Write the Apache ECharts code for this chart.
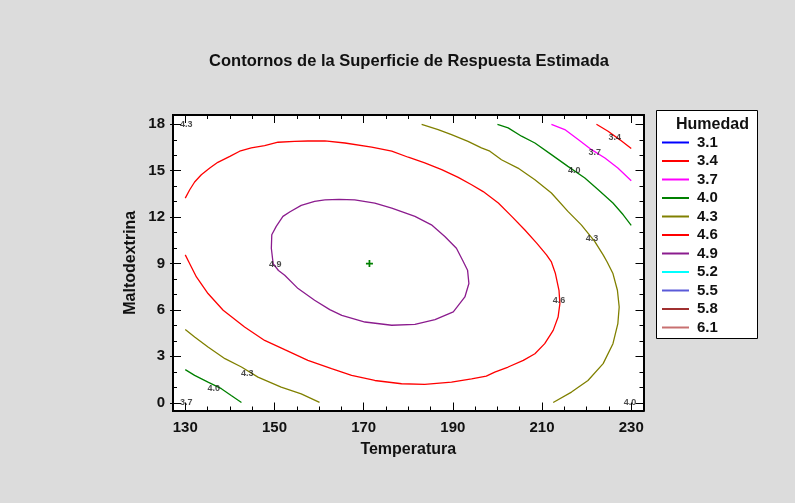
<!DOCTYPE html>
<html><head><meta charset="utf-8">
<script src="https://cdn.jsdelivr.net/npm/echarts@6/dist/echarts.min.js"></script>
<style>html,body{margin:0;padding:0;background:#dcdcdc}#c{width:795px;height:503px}</style>
</head><body><div id="c"></div>
<script>
// ---- data ----
const titleText = 'Contornos de la Superficie de Respuesta Estimada';
const xName = 'Temperatura';
const yName = 'Maltodextrina';
const legendTitle = 'Humedad';
const levels = ['3.1','3.4','3.7','4.0','4.3','4.6','4.9','5.2','5.5','5.8','6.1'];
const levelColors = ['#0000ff','#ff0000','#ff00ff','#008000','#808000','#ff0000','#8b1c8e','#00ffff','#5a5ad8','#a03030','#c87070'];
const xTicks = [130,150,170,190,210,230];
const xMinorTicks = [130,135,140,145,150,155,160,165,170,175,180,185,190,195,200,205,210,215,220,225,230];
const yTicks = [0,3,6,9,12,15,18];
const yMinorTicks = [0,1,2,3,4,5,6,7,8,9,10,11,12,13,14,15,16,17,18];

// contour lines: [Temperatura, Maltodextrina]
const c49 = [[161.3,13.12],[159.0,13.02],[156.0,12.76],[153.5,12.35],[151.9,12.05],[150.4,11.40],[149.4,10.86],[149.3,9.99],[149.7,9.0],[150.9,8.55],[152.3,8.24],[155.3,7.38],[159.0,6.63],[162.4,6.02],[165.1,5.65],[170.3,5.22],[176.3,5.01],[181.5,5.07],[186.0,5.38],[190.1,5.87],[192.7,6.84],[193.6,7.71],[193.3,8.57],[192.3,9.15],[190.8,9.99],[188.2,10.75],[185.2,11.50],[181.5,12.05],[176.3,12.58],[172.5,12.91],[168.0,13.12],[164.5,13.15],[161.3,13.12]];
const c46 = [[130.0,13.23],[131.0,13.77],[132.1,14.27],[133.6,14.74],[135.5,15.17],[137.3,15.54],[140.0,15.93],[142.2,16.26],[144.8,16.47],[147.8,16.62],[150.8,16.84],[154.5,16.90],[157.5,16.92],[161.3,16.93],[165.8,16.79],[171.8,16.53],[176.3,16.26],[180.0,15.87],[183.7,15.50],[187.5,15.07],[191.2,14.57],[194.2,14.09],[196.8,13.65],[200.2,12.91],[203.2,12.05],[206.1,11.18],[208.8,10.32],[211.0,9.56],[212.1,9.1],[213.0,8.35],[213.8,7.27],[214.0,6.41],[213.6,5.54],[212.5,4.68],[210.6,3.82],[208.4,3.17],[205.8,2.74],[202.4,2.31],[199.4,1.98],[197.5,1.72],[194.2,1.55],[189.7,1.33],[183.7,1.19],[178.5,1.23],[172.5,1.44],[167.3,1.77],[162.8,2.20],[157.5,2.74],[152.3,3.43],[147.8,4.03],[143.3,4.90],[138.5,5.98],[135.1,7.06],[132.5,8.13],[130.8,9.1],[130.0,9.56]];
const c43a = [[130.0,4.73],[132.1,4.25],[135.1,3.60],[138.9,2.85],[142.6,2.31],[146.3,1.66],[151.5,1.01],[156.0,0.58],[160.1,0.02]];
const c43b = [[183.0,18.0],[186.7,17.66],[189.7,17.33],[193.4,16.90],[196.4,16.47],[198.3,16.26],[200.9,15.71],[204.6,15.17],[208.4,14.42],[212.1,13.56],[215.8,12.37],[218.8,11.50],[221.8,10.43],[223.7,9.56],[224.6,9.1],[225.9,8.35],[226.9,7.27],[227.3,6.19],[227.0,5.12],[225.9,3.82],[223.7,2.53],[220.3,1.44],[216.6,0.69],[212.5,0.02]];
const c40a = [[130.0,2.14],[132.1,1.77],[135.1,1.33],[138.1,0.91],[140.3,0.47],[142.6,0.02]];
const c40b = [[200.0,18.0],[202.4,17.77],[205.4,17.23],[208.4,16.79],[212.1,16.04],[215.8,15.28],[219.6,14.53],[222.6,13.77],[225.9,12.91],[228.2,12.15],[230.0,11.46]];
const c37 = [[212.1,18.0],[215.1,17.66],[218.1,17.01],[221.1,16.36],[224.1,15.82],[227.0,15.17],[230.0,14.35]];
const c34 = [[222.2,18.0],[224.8,17.55],[227.4,17.01],[230.0,16.43]];

const labelText = ['4.3','4.9','4.3','4.0','3.7','3.4','3.7','4.0','4.3','4.6','4.0'];
const labelX = [130.2,150.2,143.9,136.4,130.2,226.3,221.8,217.2,221.2,213.8,229.7];
const labelY = [18.0,8.96,1.92,0.95,0.0,17.12,16.19,15.03,10.6,6.58,0.04];

const centerPoint = [171.3, 9.0];

// ---- chart ----
const FONT = '"Liberation Sans", Arial, sans-serif';
const xMin = 127.25, xMax = 232.75, yMin = -0.5, yMax = 18.6;

function xAx(pos, vals, len, labels, name, outside) {
  return {
    type: 'value', position: pos, min: xMin, max: xMax,
    name: name || '', nameLocation: 'middle', nameGap: 31, nameMoveOverlap: false,
    nameTextStyle: {fontFamily: FONT, fontWeight: 'bold', fontSize: 16, color: '#111'},
    axisLine: {show: true, onZero: false, lineStyle: {color: '#000', width: 2}},
    axisTick: {show: true, inside: !outside, length: len, customValues: vals, lineStyle: {color: '#000', width: 1}},
    axisLabel: {show: labels, customValues: vals, margin: 10, fontFamily: FONT, fontWeight: 'bold', fontSize: 15, color: '#111'},
    splitLine: {show: false}
  };
}
function yAx(pos, vals, len, labels, name, outside) {
  return {
    type: 'value', position: pos, min: yMin, max: yMax,
    name: name || '', nameLocation: 'middle', nameGap: 34, nameMoveOverlap: false,
    nameTextStyle: {fontFamily: FONT, fontWeight: 'bold', fontSize: 16, color: '#111'},
    axisLine: {show: true, onZero: false, lineStyle: {color: '#000', width: 2}},
    axisTick: {show: true, inside: !outside, length: len, customValues: vals, lineStyle: {color: '#000', width: 1}},
    axisLabel: {show: labels, customValues: vals, margin: 8, fontFamily: FONT, fontWeight: 'bold', fontSize: 15, color: '#111'},
    splitLine: {show: false}
  };
}

function colorOf(lv) { return levelColors[levels.indexOf(lv)]; }
function lineSeries(lv, pts) {
  const col = colorOf(lv);
  return {
    type: 'line', name: lv, data: pts, showSymbol: false, symbol: 'none',
    color: col, itemStyle: {color: col}, lineStyle: {color: col, width: 1.3},
    xAxisIndex: 0, yAxisIndex: 0, animation: false, silent: true, z: 3
  };
}

const series = [];
const pieces = [['4.9', c49], ['4.6', c46], ['4.3', c43a], ['4.3', c43b], ['4.0', c40a], ['4.0', c40b], ['3.7', c37], ['3.4', c34]];
levels.forEach(lv => {
  const own = pieces.filter(p => p[0] === lv);
  if (own.length === 0) series.push(lineSeries(lv, []));
  own.forEach(p => series.push(lineSeries(lv, p[1])));
});
series.push({
  type: 'scatter', name: 'labels', symbolSize: 1, itemStyle: {color: 'rgba(0,0,0,0)'},
  data: labelText.map((t, i) => ({name: t, value: [labelX[i], labelY[i]]})),
  label: {show: true, position: 'inside', formatter: p => p.name, fontFamily: FONT, fontWeight: 'bold', fontSize: 9, color: '#1a1a1a'},
  xAxisIndex: 0, yAxisIndex: 0, animation: false, silent: true, z: 5
});
series.push({
  type: 'scatter', name: 'centro', symbol: 'path://M3,0h2v3h3v2h-3v3h-2v-3h-3v-2h3z', symbolSize: 7,
  itemStyle: {color: '#008000', opacity: 1}, data: [centerPoint], xAxisIndex: 0, yAxisIndex: 0, animation: false, silent: true, z: 6
});

const chart = echarts.init(document.getElementById('c'), null, {renderer: 'canvas'});
chart.setOption({
  backgroundColor: '#dcdcdc',
  animation: false,
  title: {text: titleText, left: 404, top: 48, textAlign: 'center',
    textStyle: {fontFamily: FONT, fontWeight: 'bold', fontSize: 16.5, color: '#111'}},
  grid: {left: 173, top: 115, width: 470.5, height: 295.5, show: true, backgroundColor: '#ffffff', borderWidth: 0, containLabel: false},
  xAxis: [
    xAx('bottom', xTicks, 8, true, xName),
    xAx('bottom', xMinorTicks, 4, false),
    xAx('top', xTicks, 8, false),
    xAx('top', xMinorTicks, 4, false)
  ],
  yAxis: [
    yAx('left', yTicks, 8, true, yName),
    yAx('left', yMinorTicks, 4, false),
    yAx('right', yTicks, 8, false),
    yAx('right', yMinorTicks, 4, false),
    yAx('left', yTicks, 3, false, '', true)
  ],
  legend: {
    data: levels, orient: 'vertical', left: 662, top: 135, itemWidth: 27, itemHeight: 2, itemGap: 3.5,
    icon: 'rect', selectedMode: false, padding: 0,
    textStyle: {fontFamily: FONT, fontWeight: 'bold', fontSize: 15, lineHeight: 15, color: '#111', padding: [0, 0, 0, 3]}
  },
  graphic: [
    {type: 'rect', left: 656, top: 110, z: -1, shape: {width: 101, height: 228}, style: {fill: '#ffffff', stroke: '#000', lineWidth: 1}},
    {type: 'text', left: 676, top: 117, z: 10, style: {text: legendTitle, font: 'bold 16px ' + FONT, fill: '#111'}}
  ],
  series: series
});
</script>
</body></html>
